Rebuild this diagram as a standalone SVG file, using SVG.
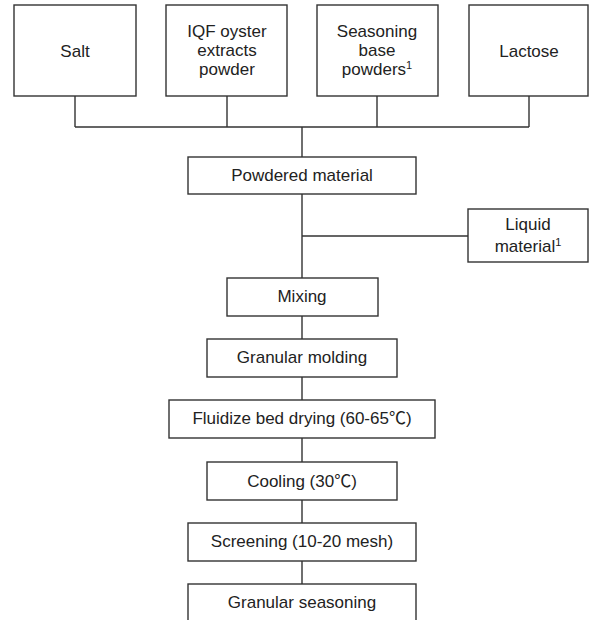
<svg xmlns="http://www.w3.org/2000/svg" width="589" height="620" viewBox="0 0 589 620">
<style>
.box{fill:#fff;stroke:#333;stroke-width:1.4}
.ln{fill:none;stroke:#333;stroke-width:1.4}
text{font-family:"Liberation Sans",Arial,"Noto Sans CJK SC",sans-serif;font-size:17px;fill:#222;text-anchor:middle}
.sup{font-size:11px}
</style>
<rect width="589" height="620" fill="#fff"/>
<g id="connectors">
<path class="ln" d="M75,96V127M227,96V127M377,96V127M529,96V127M75,127H529M302,127V157"/>
<path class="ln" d="M302,194V278M302,236H468"/>
<path class="ln" d="M302,316V339M302,377V400M302,438V462M302,500V523M302,561V584"/>
</g>
<g id="salt"><rect class="box" x="14" y="5" width="122" height="91"/><text x="75" y="57">Salt</text></g>
<g id="iqf"><rect class="box" x="166" y="5" width="121" height="91"/><text x="227" y="37">IQF oyster</text><text x="227" y="56">extracts</text><text x="227" y="75">powder</text></g>
<g id="seasoning"><rect class="box" x="317" y="5" width="121" height="91"/><text x="377" y="37">Seasoning</text><text x="377" y="56">base</text><text x="377" y="75">powders<tspan class="sup" dy="-6">1</tspan></text></g>
<g id="lactose"><rect class="box" x="469" y="5" width="119" height="91"/><text x="529" y="57">Lactose</text></g>
<g id="powdered"><rect class="box" x="188" y="157" width="228" height="37"/><text x="302" y="181">Powdered material</text></g>
<g id="liquid"><rect class="box" x="468" y="209" width="120" height="53"/><text x="528" y="230">Liquid</text><text x="528" y="252">material<tspan class="sup" dy="-6">1</tspan></text></g>
<g id="mixing"><rect class="box" x="227" y="278" width="151" height="38"/><text x="302" y="302">Mixing</text></g>
<g id="molding"><rect class="box" x="207" y="339" width="190" height="38"/><text x="302" y="363">Granular molding</text></g>
<g id="drying"><rect class="box" x="169" y="400" width="266" height="38"/><text x="302" y="424">Fluidize bed drying (60-65℃)</text></g>
<g id="cooling"><rect class="box" x="207" y="462" width="190" height="38"/><text x="302" y="487">Cooling (30℃)</text></g>
<g id="screening"><rect class="box" x="188" y="523" width="228" height="38"/><text x="302" y="547">Screening (10-20 mesh)</text></g>
<g id="granular"><rect class="box" x="188" y="584" width="228" height="50"/><text x="302" y="608">Granular seasoning</text></g>
</svg>
